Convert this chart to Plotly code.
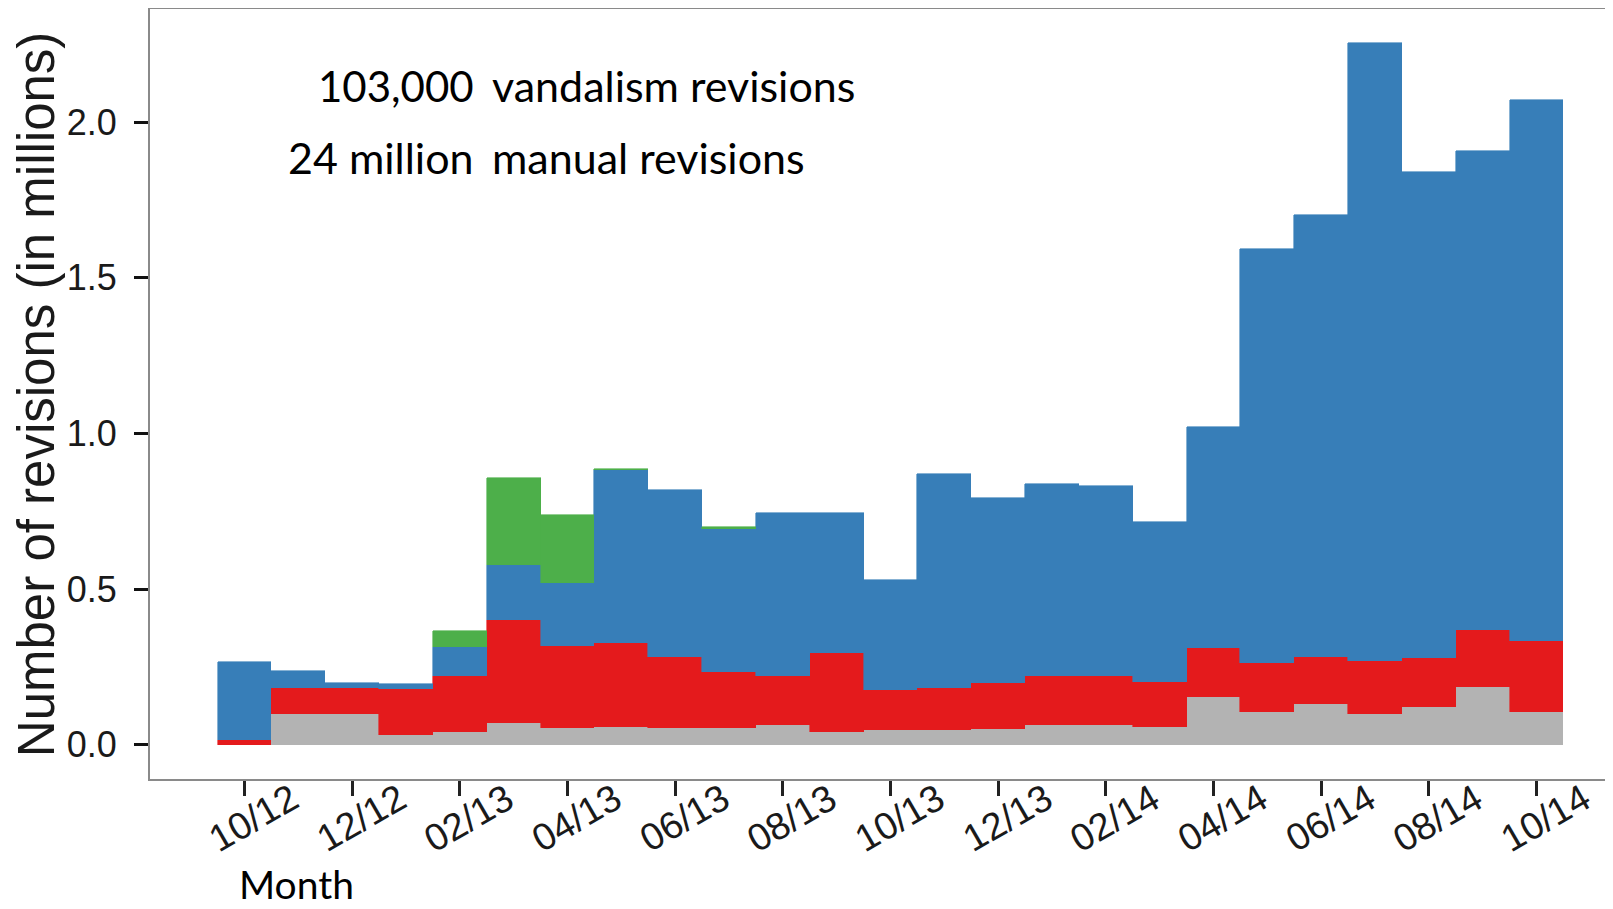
"""Monthly revisions, stacked by type (in millions)."""

import plotly.graph_objects as go

months = [
    "10/12", "11/12", "12/12", "01/13", "02/13", "03/13", "04/13", "05/13",
    "06/13", "07/13", "08/13", "09/13", "10/13", "11/13", "12/13", "01/14",
    "02/14", "03/14", "04/14", "05/14", "06/14", "07/14", "08/14", "09/14",
    "10/14",
]

# layer heights, bottom to top (millions of revisions)
gray_vals = [
    0.000, 0.097, 0.097, 0.030, 0.040, 0.070, 0.052, 0.057, 0.052, 0.052,
    0.063, 0.040, 0.046, 0.046, 0.051, 0.062, 0.064, 0.056, 0.154, 0.106,
    0.132, 0.097, 0.120, 0.186, 0.106,
]
red_vals = [
    0.014, 0.084, 0.084, 0.148, 0.182, 0.330, 0.264, 0.270, 0.230, 0.180,
    0.159, 0.254, 0.129, 0.136, 0.147, 0.158, 0.156, 0.144, 0.155, 0.156,
    0.150, 0.172, 0.157, 0.181, 0.227,
]
blue_vals = [
    0.251, 0.056, 0.017, 0.017, 0.091, 0.178, 0.204, 0.554, 0.535, 0.462,
    0.523, 0.451, 0.354, 0.689, 0.595, 0.616, 0.610, 0.514, 0.711, 1.332,
    1.419, 1.987, 1.563, 1.541, 1.738,
]
green_vals = [
    0.000, 0.000, 0.000, 0.000, 0.051, 0.278, 0.219, 0.004, 0.000, 0.005,
    0.000, 0.000, 0.000, 0.000, 0.000, 0.000, 0.000, 0.000, 0.000, 0.000,
    0.000, 0.000, 0.000, 0.000, 0.000,
]

tick_idx = list(range(0, len(months), 2))
tick_text = [months[i] for i in tick_idx]

layers = [
    (gray_vals, "#B3B3B3"),
    (red_vals, "#E41A1C"),
    (blue_vals, "#377EB8"),
    (green_vals, "#4DAF4A"),
]

x = list(range(len(months)))

fig = go.Figure()
for vals, color in layers:
    # empty segments are left out so they don't leave a coloured edge
    fig.add_trace(
        go.Bar(
            x=x,
            y=[v if v > 0 else None for v in vals],
            width=1,
            marker=dict(color=color, line=dict(color=color, width=0.6)),
            showlegend=False,
            hoverinfo="skip",
        )
    )

AX_FONT = "Liberation Sans, Arial, sans-serif"
NOTE_FONT = "Lato, Carlito, Calibri, sans-serif"

annotations = []
# x tick labels, centred on the ticks
for i, t in zip(tick_idx, tick_text):
    annotations.append(dict(
        x=i, y=0, xref="x", yref="paper", text=t, showarrow=False,
        textangle=-30, xanchor="center", yanchor="middle",
        xshift=9, yshift=-39,
        font=dict(family=AX_FONT, size=38, color="#1a1a1a"),
    ))

annotations += [
    dict(x=-0.0778, y=0.5, xref="paper", yref="paper",
         text="Number of revisions (in millions)", showarrow=False,
         textangle=-90, xanchor="center", yanchor="middle",
         font=dict(family=AX_FONT, size=51, color="#1a1a1a")),
    dict(x=0.0998, y=-0.137, xref="paper", yref="paper", text="Month",
         showarrow=False, xanchor="center", yanchor="middle",
         font=dict(family=NOTE_FONT, size=39, color="black")),
    dict(x=0.2228, y=0.9, xref="paper", yref="paper", text="103,000",
         showarrow=False, xanchor="right", yanchor="middle",
         font=dict(family=NOTE_FONT, size=42, color="black")),
    dict(x=0.2324, y=0.9, xref="paper", yref="paper",
         text="vandalism revisions", showarrow=False, xanchor="left",
         yanchor="middle", font=dict(family=NOTE_FONT, size=43, color="black")),
    dict(x=0.2228, y=0.807, xref="paper", yref="paper", text="24 million",
         showarrow=False, xanchor="right", yanchor="middle",
         font=dict(family=NOTE_FONT, size=43, color="black")),
    dict(x=0.2324, y=0.807, xref="paper", yref="paper",
         text="manual revisions", showarrow=False, xanchor="left",
         yanchor="middle", font=dict(family=NOTE_FONT, size=43, color="black")),
]

# page body adds an 8px offset, so the figure is 8px smaller than the window
fig.update_layout(
    barmode="stack",
    bargap=0,
    width=1605,
    height=901,
    paper_bgcolor="white",
    plot_bgcolor="white",
    margin=dict(l=142, r=0, t=1, b=130),
    annotations=annotations,
    xaxis=dict(
        range=[-1.756, 25.42],
        tickvals=tick_idx,
        ticktext=tick_text,
        showticklabels=False,
        ticks="outside",
        ticklen=15,
        tickwidth=3,
        tickcolor="#222",
        showgrid=False,
        zeroline=False,
        showline=True,
        linecolor="#8a8a8a",
        linewidth=2,
        mirror=True,
    ),
    yaxis=dict(
        range=[-0.1106, 2.364],
        tickvals=[0, 0.5, 1.0, 1.5, 2.0],
        ticktext=["0.0", "0.5", "1.0", "1.5", "2.0"],
        ticks="outside",
        ticklen=14,
        tickwidth=3,
        tickcolor="#111",
        ticklabelstandoff=10,
        tickfont=dict(family=AX_FONT, size=36, color="#1a1a1a"),
        showgrid=False,
        zeroline=False,
        showline=True,
        linecolor="#8a8a8a",
        linewidth=2,
    ),
)

fig.write_html("out.html")
